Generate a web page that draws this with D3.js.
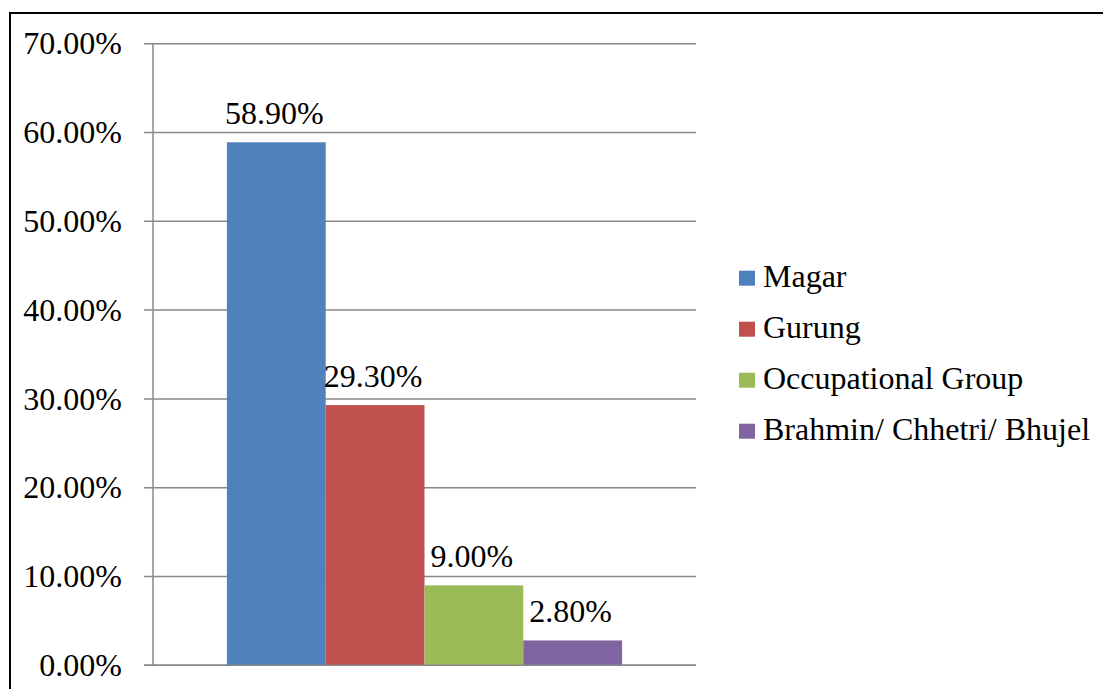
<!DOCTYPE html>
<html><head><meta charset="utf-8">
<script src="https://cdn.jsdelivr.net/npm/d3@7"></script>
</head><body style="margin:0">
<script>
const categories = ["Magar", "Gurung", "Occupational Group", "Brahmin/ Chhetri/ Bhujel"];
const values = [58.9, 29.3, 9.0, 2.8];
const colors = ["#4F81BD", "#C0504D", "#9BBB59", "#8064A2"];
const yTicks = [0, 10, 20, 30, 40, 50, 60, 70];

const W = 1103, H = 689;
const svg = d3.select("body").append("svg").attr("width", W).attr("height", H)
  .style("display", "block").attr("font-family", "Liberation Serif").style("font-family", '"Liberation Serif"');
const FS = "32px";
function serif(sel) {
  return sel.attr("font-family", "Liberation Serif").style("font-family", '"Liberation Serif"').style("font-size", FS);
}

// frame
svg.append("rect").attr("x", 10).attr("y", 13).attr("width", W + 10).attr("height", H + 10)
  .attr("fill", "none").attr("stroke", "#000").attr("stroke-width", 2);

const x0 = 153, x1 = 696, yTop = 43.7, yBot = 665.3;
const y = d3.scaleLinear().domain([0, 70]).range([yBot, yTop]);
const xOuter = d3.scaleBand().domain(["g"]).range([x0, x1]).paddingInner(0).paddingOuter(0.187);
const xIn = d3.scaleBand().domain(categories).range([0, xOuter.bandwidth()]);

// gridlines
svg.append("g").selectAll("line").data(yTicks).join("line")
  .attr("x1", x0 - 9).attr("x2", x1).attr("y1", d => y(d)).attr("y2", d => y(d))
  .attr("stroke", "#888").attr("stroke-width", 1.5);
svg.append("line").attr("x1", x0).attr("x2", x0).attr("y1", yTop).attr("y2", yBot)
  .attr("stroke", "#888").attr("stroke-width", 1.5);
// tick labels
serif(svg.append("g").selectAll("text").data(yTicks).join("text")
  .attr("x", 122).attr("y", d => y(d) + 10.6).attr("text-anchor", "end").attr("fill", "#000")
  .text(d => d.toFixed(2) + "%"));

// bars
const gx = xOuter("g");
svg.append("g").selectAll("rect").data(values).join("rect")
  .attr("x", (d, i) => gx + xIn(categories[i])).attr("width", xIn.bandwidth())
  .attr("y", d => y(d)).attr("height", d => yBot - y(d))
  .attr("fill", (d, i) => colors[i]);
svg.append("line").attr("x1", x0 - 9).attr("x2", x1).attr("y1", yBot).attr("y2", yBot)
  .attr("stroke", "#888").attr("stroke-width", 1.5);

// data labels
serif(svg.append("g").selectAll("text").data(values).join("text")
  .attr("x", (d, i) => gx + xIn(categories[i]) + xIn.bandwidth() / 2 - 2)
  .attr("y", d => y(d) - 18)
  .attr("text-anchor", "middle").attr("fill", "#000")
  .text(d => d.toFixed(2) + "%"));

// legend
const lg = svg.append("g").attr("transform", "translate(739,270.7)");
const items = lg.selectAll("g").data(categories).join("g")
  .attr("transform", (d, i) => `translate(0,${i * 51})`);
items.append("rect").attr("width", 16).attr("height", 15).attr("fill", (d, i) => colors[i]);
serif(items.append("text").attr("x", 24).attr("y", 16).attr("fill", "#000").text(d => d));
</script>
</body></html>
